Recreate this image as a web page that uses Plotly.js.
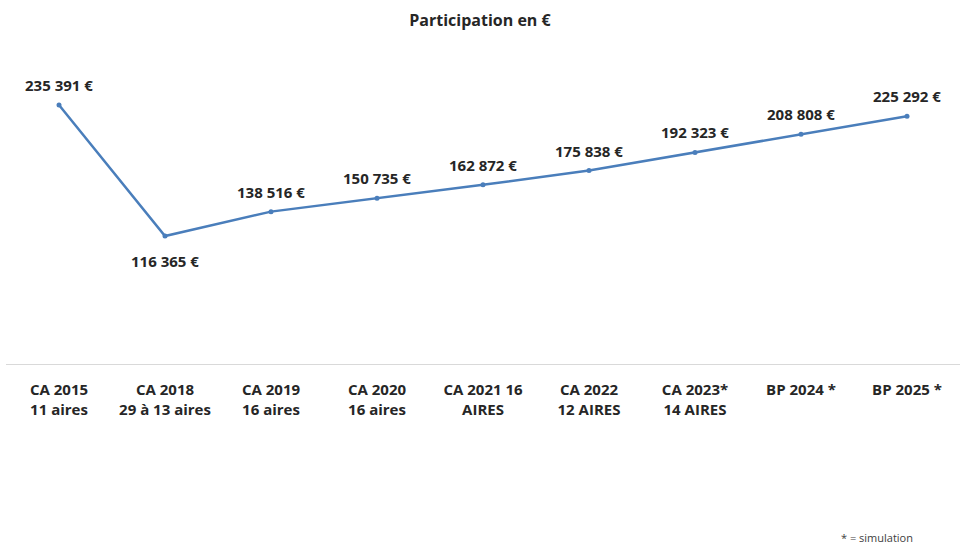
<!DOCTYPE html>
<html>
<head>
<meta charset="utf-8">
<script src="https://cdn.plot.ly/plotly-3.0.1.min.js"></script>
<style>html,body{margin:0;padding:0;background:#fff;}#chart{width:960px;height:545px;}</style>
</head>
<body>
<div id="chart"></div>
<script>
const categories = ["CA 2015<br>11 aires", "CA 2018<br>29 à 13 aires", "CA 2019<br>16 aires", "CA 2020<br>16 aires", "CA 2021 16<br>AIRES", "CA 2022<br>12 AIRES", "CA 2023*<br>14 AIRES", "BP 2024 *", "BP 2025 *"];
const values = [235391, 116365, 138516, 150735, 162872, 175838, 192323, 208808, 225292];
const labels = ["235 391 €", "116 365 €", "138 516 €", "150 735 €", "162 872 €", "175 838 €", "192 323 €", "208 808 €", "225 292 €"];
const labelBelow = [false, true, false, false, false, false, false, false, false];

const fontFam = "'Open Sans', 'Liberation Sans', sans-serif";
const idx = categories.map((c, i) => i);

const labelAnns = idx.map(i => ({
  x: i, y: values[i], xref: 'x', yref: 'y', text: '<b>' + labels[i] + '</b>',
  showarrow: false, xanchor: 'center', yanchor: 'middle',
  yshift: labelBelow[i] ? -25 : 20,
  font: {family: fontFam, size: 15, color: '#262626'}
}));

Plotly.newPlot('chart', [{
  type: 'scatter',
  mode: 'lines+markers',
  x: idx,
  y: values,
  line: {color: '#4a7ebb', width: 2.5},
  marker: {color: '#4a7ebb', size: 5},
  cliponaxis: false,
  hoverinfo: 'none'
}], {
  width: 960, height: 545,
  margin: {l: 6, r: 0, t: 89, b: 181},
  paper_bgcolor: '#fff', plot_bgcolor: '#fff',
  showlegend: false,
  title: {text: '<b>Participation en €</b>', x: 0.5, xanchor: 'center', y: 0.963, yanchor: 'middle', font: {family: fontFam, size: 16, color: '#262626'}},
  xaxis: {
    tickmode: 'array', tickvals: idx, ticktext: categories.map(c => '<b>' + c + '</b>'),
    range: [-0.5, 8.5], showgrid: false, zeroline: false,
    showline: true, linecolor: '#d9d9d9', linewidth: 1,
    ticks: '', ticklabelstandoff: 12,
    tickfont: {family: fontFam, size: 15, color: '#262626'}, fixedrange: true
  },
  yaxis: {range: [0, 250000], visible: false, showgrid: false, zeroline: false, fixedrange: true},
  annotations: labelAnns.concat([{
    text: '* = simulation', xref: 'paper', yref: 'paper', x: 0.873, y: -0.63, xanchor: 'left', yanchor: 'middle',
    showarrow: false, font: {family: fontFam, size: 11, color: '#404040'}
  }])
}, {displayModeBar: false, staticPlot: true});
</script>
</body>
</html>
